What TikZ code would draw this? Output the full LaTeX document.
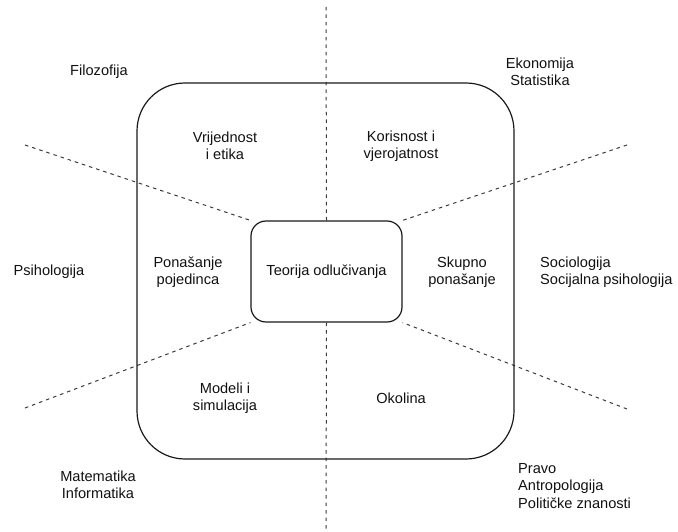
\documentclass[tikz,border=0pt]{standalone}
\usepackage{fontspec}
\setmainfont{Liberation Sans}
\usepackage{xcolor}
\usepackage{tikz}
\usetikzlibrary{positioning, backgrounds}
\definecolor{lineBlack}{HTML}{1A1A1A}
\definecolor{dashGray}{HTML}{3A3A3A}
\definecolor{fieldText}{HTML}{111111}

\begin{document}
\begin{tikzpicture}[x=1pt, y=-1pt,
  fieldtext/.style={font=\fontsize{14.6}{17.5}\selectfont, text=fieldText, align=center, inner sep=0pt},
  divider/.style={dash pattern=on 3.5pt off 4pt, line width=1pt, color=dashGray},
  outerbox/.style={draw=lineBlack, line width=1.2pt, rounded corners=48pt},
  corebox/.style={draw=lineBlack, line width=1.2pt, fill=white, rounded corners=15pt}]
  \useasboundingbox (0,0) rectangle (678,532);
  % frame and centre
  \node[outerbox, minimum width=377pt, minimum height=376pt] (field) at (325.5, 271) {};
  \node[corebox, fieldtext, minimum width=151pt, minimum height=101pt] (core) at (326.5, 271.5) {Teorija odlučivanja};
  % free ends of the dividers
  \coordinate (farUL) at (25, 145);
  \coordinate (farUR) at (627, 145);
  \coordinate (farLL) at (25, 408);
  \coordinate (farLR) at (627, 409);
  \coordinate (farTop) at (326, 7);
  \coordinate (farBot) at (326, 532);
  \begin{scope}[on background layer]
    \draw[divider] (farTop) -- (core.north);
    \draw[divider] (core.south) -- (farBot);
    \draw[divider] (farUL) -- (core.north west);
    \draw[divider] (farUR) -- (core.north east);
    \draw[divider] (farLL) -- (core.south west);
    \draw[divider] (farLR) -- (core.south east);
  \end{scope}
  % inner fields
  \node[fieldtext] (value) at (225, 146) {Vrijednost\\i etika};
  \node[fieldtext] (utility) at (401, 146) {Korisnost i\\vjerojatnost};
  \node[fieldtext] (person) at (188, 272) {Ponašanje\\pojedinca};
  \node[fieldtext] (group) at (462, 272) {Skupno\\ponašanje};
  \node[fieldtext] (models) at (225, 398) {Modeli i\\simulacija};
  \node[fieldtext] (setting) at (401, 398) {Okolina};
  % disciplines
  \node[fieldtext] (philo) at (99, 72) {Filozofija};
  \node[fieldtext] (econ) at (540, 72) {Ekonomija\\Statistika};
  \node[fieldtext] (psych) at (49, 272) {Psihologija};
  \node[fieldtext, align=left, anchor=west] (socio) at (540, 272) {Sociologija\\Socijalna psihologija};
  \node[fieldtext] (maths) at (98, 485) {Matematika\\Informatika};
  \node[fieldtext, align=left, anchor=west] (law) at (518, 486) {Pravo\\Antropologija\\Političke znanosti};
\end{tikzpicture}
\end{document}
